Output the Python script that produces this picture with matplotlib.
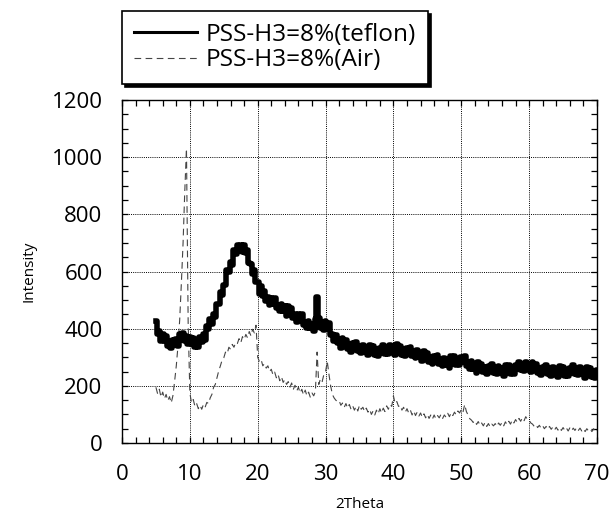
import matplotlib
matplotlib.use("Agg")
import matplotlib.pyplot as plt
import numpy as np
from matplotlib.ticker import MultipleLocator

# --- data (0.25 deg scan step) ---
teflon_theta = np.arange(5.0, 70.01, 0.25)
teflon_intensity = [
    426, 381, 391, 357, 380, 358, 376, 340, 352, 332, 362, 342,
    364, 340, 382, 362, 386, 358, 376, 347, 370, 348, 368, 335,
    350, 336, 372, 355, 380, 362, 410, 399, 434, 416, 450, 440,
    486, 488, 530, 518, 552, 554, 604, 598, 633, 622, 674, 662,
    694, 671, 694, 668, 692, 664, 675, 628, 627, 592, 604, 562,
    563, 520, 548, 516, 531, 496, 511, 482, 507, 487, 507, 471,
    482, 461, 488, 462, 478, 446, 480, 452, 471, 437, 453, 425,
    452, 431, 450, 413, 422, 401, 428, 402, 418, 392, 433, 510,
    436, 404, 422, 397, 426, 406, 420, 378, 382, 356, 379, 350,
    364, 332, 367, 340, 360, 328, 346, 320, 349, 332, 355, 321,
    334, 315, 344, 319, 336, 307, 343, 317, 338, 308, 328, 304,
    334, 319, 344, 313, 328, 311, 342, 319, 338, 309, 346, 320,
    341, 309, 328, 303, 332, 314, 337, 304, 317, 297, 325, 300,
    316, 286, 322, 296, 316, 284, 302, 277, 305, 287, 309, 275,
    287, 268, 297, 273, 291, 264, 303, 280, 303, 274, 295, 272,
    302, 284, 305, 270, 282, 260, 286, 260, 276, 246, 282, 257,
    278, 247, 266, 241, 270, 253, 277, 244, 258, 240, 270, 246,
    264, 236, 274, 250, 272, 243, 264, 241, 272, 258, 284, 254,
    270, 253, 284, 260, 278, 248, 284, 258, 278, 246, 264, 238,
    267, 250, 273, 240, 254, 235, 265, 240, 258, 230, 268, 244,
    266, 236, 257, 233, 264, 249, 274, 242, 257, 238, 267, 241,
    258, 229, 266, 241, 262, 232, 251, 227, 257,
]

air_theta = np.arange(5.0, 70.01, 0.25)
air_intensity = [
    195, 172, 188, 160, 178, 155, 170, 148, 162, 140, 165, 215,
    270, 340, 430, 560, 700, 880, 1030, 420, 175, 140, 152, 128,
    138, 120, 132, 118, 135, 125, 142, 138, 158, 170, 195, 205,
    228, 252, 270, 290, 298, 318, 312, 335, 328, 345, 335, 352,
    348, 365, 350, 372, 362, 380, 368, 390, 375, 398, 385, 412,
    300, 285, 292, 270, 278, 262, 270, 250, 258, 238, 248, 228,
    240, 218, 232, 212, 222, 205, 215, 195, 210, 188, 202, 182,
    195, 175, 188, 168, 185, 165, 178, 160, 175, 165, 180, 318,
    205, 225, 215, 240, 250, 285, 240, 200, 170, 158, 150, 145,
    148, 132, 140, 125, 138, 122, 135, 118, 130, 115, 128, 112,
    132, 118, 125, 110, 122, 108, 118, 100, 112, 98, 115, 102,
    120, 105, 122, 110, 130, 118, 135, 128, 165, 138, 145, 128,
    132, 115, 125, 108, 120, 105, 115, 98, 112, 96, 108, 94,
    105, 90, 102, 88, 100, 86, 98, 84, 98, 85, 96, 88,
    100, 86, 98, 90, 104, 92, 106, 96, 108, 98, 112, 105,
    118, 108, 135, 110, 98, 85, 80, 72, 78, 65, 75, 62,
    70, 60, 72, 58, 68, 56, 66, 60, 68, 58, 70, 62,
    72, 60, 74, 64, 76, 66, 80, 70, 82, 72, 86, 76,
    88, 78, 92, 82, 80, 70, 66, 58, 64, 54, 62, 52,
    60, 50, 58, 48, 58, 48, 56, 46, 55, 45, 54, 44,
    54, 44, 52, 42, 53, 43, 52, 44, 54, 44, 52, 42,
    50, 40, 50, 42, 48, 40, 50, 38, 45,
]

labels = ["PSS-H3=8%(teflon)", "PSS-H3=8%(Air)"]
x_ticks = [0, 10, 20, 30, 40, 50, 60, 70]
y_ticks = [0, 200, 400, 600, 800, 1000, 1200]

plt.rcParams.update({
    "font.family": ["Open Sans", "DejaVu Sans"],
    "figure.dpi": 100,
    "savefig.dpi": 100,
})

fig = plt.figure(figsize=(6.12, 5.14))
ax = fig.add_axes([122 / 612, 71 / 514, 475 / 612, 343 / 514])

ax.plot(teflon_theta, teflon_intensity, color="black", lw=4.0,
        drawstyle="steps-mid", label=labels[0], zorder=3)
ax.plot(air_theta, air_intensity, color="#454545", lw=0.8,
        linestyle=(0, (6, 4)), label=labels[1], zorder=2)

ax.set_xlim(0, 70)
ax.set_ylim(0, 1200)
ax.set_xticks(x_ticks)
ax.set_yticks(y_ticks)
ax.xaxis.set_minor_locator(MultipleLocator(2))
ax.yaxis.set_minor_locator(MultipleLocator(50))
ax.tick_params(which="both", direction="in", top=True, right=True,
               length=4, width=0.9, labelsize=16)
ax.tick_params(axis="x", pad=15)
ax.tick_params(axis="y", pad=14)
ax.grid(True, which="major", linestyle=(0, (1, 1.2)), color="black", lw=0.7)
for sp in ax.spines.values():
    sp.set_linewidth(1.0)

ax.set_xlabel("2Theta", fontsize=11, labelpad=9)
ax.set_ylabel("Intensity", fontsize=11, labelpad=11)

leg = ax.legend(loc="upper left", bbox_to_anchor=(122 / 612, 1 - 11 / 514),
                bbox_transform=fig.transFigure, fontsize=17.6, frameon=True,
                fancybox=False, shadow={"color": "black", "alpha": 1.0},
                handlelength=2.6, handletextpad=0.35, labelspacing=0.06,
                borderpad=0.48, borderaxespad=0)
leg.get_frame().set_edgecolor("black")
leg.get_frame().set_linewidth(1.2)
for h in leg.get_lines()[:1]:
    h.set_linewidth(2.2)

fig.savefig("out.png")
